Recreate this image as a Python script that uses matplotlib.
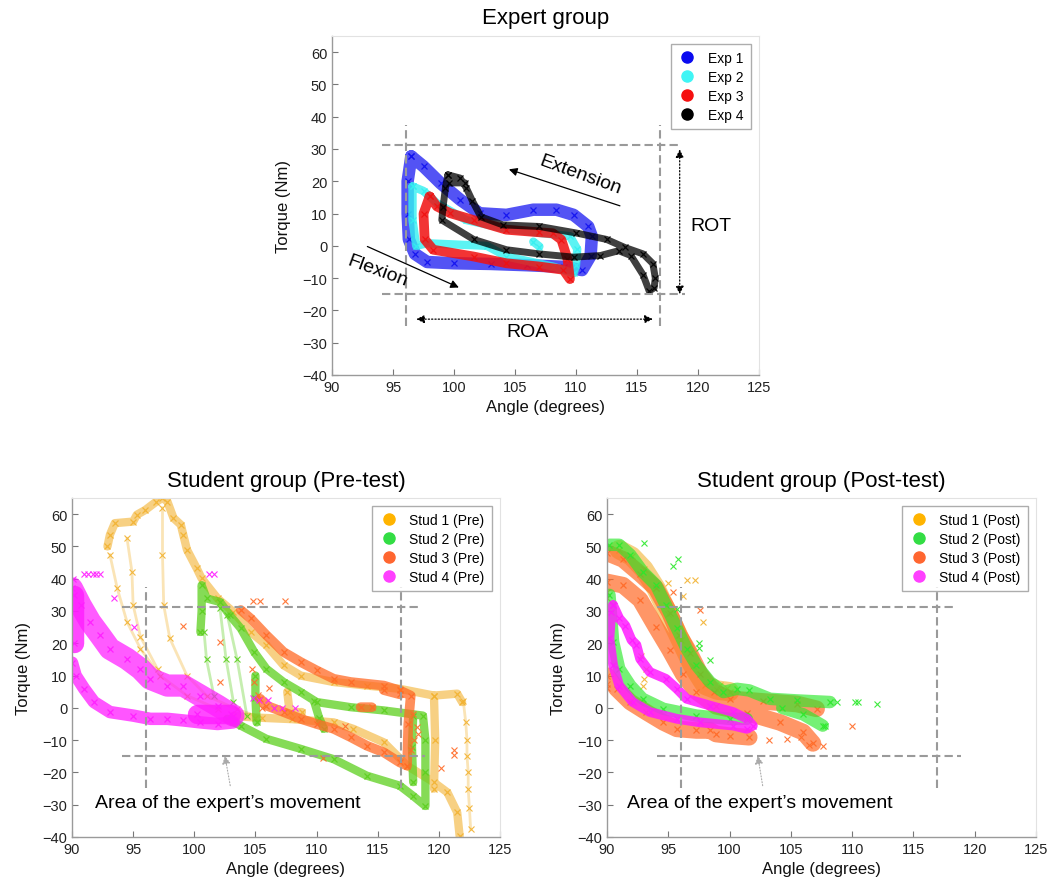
import numpy as np
import matplotlib
matplotlib.use("Agg")
import matplotlib.pyplot as plt
from matplotlib.lines import Line2D

plt.rcParams['font.family'] = ['Liberation Sans', 'DejaVu Sans']

nan = np.nan

# ---------------- Expert group data (angle deg, torque Nm) ----------------
exp1_x = [96.5, 97.5, 98.9, 100.5, 102.1, 104.3, 106.5, 108.4, 109.8, 111.0, 111.3, 111.2, 110.5,
          109.0, 106.0, 103.0, 100.0, 97.8, 96.8, 96.3, 96.2, 96.2, 96.5]
exp1_y = [27.7, 24.6, 19.4, 14.3, 10.1, 9.6, 11.2, 11.2, 9.6, 6.0, 2.9, -3.0, -7.5,
          -6.5, -6.0, -5.6, -5.4, -5.0, -2.5, 2.0, 10.0, 20.0, 27.7]
exp2_x = [96.6, 97.5, 98.6, 101.0, 104.0, 107.0, 109.5, 110.1, 110.0, 109.8, 108.1, 104.3,
          102.7, 97.8, 96.9, 96.6, 96.6, nan, 106.5, 107.0]
exp2_y = [18.4, 17.0, 13.2, 8.0, 5.5, 4.0, 3.0, -1.0, -6.0, -8.5, -6.4, -3.3,
          0.0, 0.8, 0.0, 8.0, 18.4, nan, 1.3, -0.2]
exp3_x = [98.0, 98.6, 99.7, 101.6, 104.3, 107.0, 108.1, 108.8, 109.3, 109.5, 108.96, 107.0,
          104.3, 101.6, 98.3, 97.6, 97.5, 98.0]
exp3_y = [15.3, 12.2, 10.1, 8.0, 5.0, 4.2, 3.9, 1.9, -4.0, -10.3, -7.4, -6.4,
          -5.4, -3.3, -1.2, 2.0, 10.0, 15.3]
exp4_x = [99.5, 100.5, 101.0, 101.5, 102.2, 104.0, 107.0, 110.0, 112.5, 114.0, 115.5, 116.3,
          116.5, 116.4, 116.0, 115.5, 114.5, 113.5, 112.0, 109.8, 107.0, 104.3, 101.6, 99.0,
          99.1, 99.3, 99.5, nan, 99.6, 100.9]
exp4_y = [22.0, 21.0, 18.0, 14.0, 9.0, 6.5, 6.0, 4.0, 2.0, -0.5, -2.5, -5.5,
          -10.0, -13.0, -14.0, -9.0, -3.0, -1.5, -3.0, -3.5, -2.5, -1.2, 2.0, 8.0,
          12.0, 18.0, 22.0, nan, 19.5, 19.5]

# ---------------- Student pre-test ----------------
s1_pre_x = [92.9, 93.1, 93.5, 95.0, 95.3, 96.0, 96.9, 97.4, 97.8, 98.3, 98.9, 99.1, 99.4,
            100.2, 100.6, 101.9, 103.2, 104.6, 105.9, 107.3, 108.7, 111.4, 114.1, 116.8,
            119.6, 121.5, 121.9, nan,
            119.6, 119.7, 119.6, nan,
            103.2, 105.0, 108.0, 111.4, 113.0, 115.5, 117.4, 119.6, 120.7, 121.5, 121.7, nan,
            107.6, 107.8, 108.8]
s1_pre_y = [50.0, 53.6, 57.2, 57.7, 59.8, 61.3, 63.9, 65.0, 63.9, 58.8, 56.7, 53.6, 49.0,
            43.2, 40.1, 33.9, 29.7, 23.5, 19.4, 13.2, 10.0, 8.0, 6.9, 5.9,
            3.8, 4.4, 1.8, nan,
            3.8, -10.0, -25.0, nan,
            -2.5, -3.0, -3.5, -4.5, -6.5, -10.7, -17.9, -23.1, -26.2, -32.4, -39.7, nan,
            5.0, -1.3, -1.3]
s1_pre_sx = [101.9, 99.4, 97.2, 95.6, 94.5, 93.7, 93.1, nan,
             94.5, 94.9, 95.0, 95.6, 97.0, nan,
             97.4, 97.4, 97.5, 98.0, 99.4, 101.0, 103.5, 105.5, nan,
             122.0, 122.2, 122.3, 122.3, 122.4, 122.4, 122.5, 122.6]
s1_pre_sy = [-0.3, 3.8, 10.0, 18.3, 26.6, 37.0, 47.4, nan,
             52.5, 42.2, 31.8, 22.0, 12.0, nan,
             62.0, 47.4, 31.8, 21.5, 10.0, 3.8, -0.5, -3.0, nan,
             2.0, -4.5, -10.0, -14.8, -20.0, -25.2, -31.0, -37.6]

s2_pre_x = [100.5, 100.6, 100.6, 101.0, 102.1, 102.9, 103.8, 104.9, 105.9, 107.3, 108.7, 110.0,
            112.8, 115.5, 118.7, 118.9, 118.9, 118.9, 117.9, 116.8, 114.1, 111.4, 108.7,
            105.9, 103.8, 102.7, nan,
            105.0, 105.0, 105.1, nan,
            109.8, 110.2, 110.6, nan,
            117.9, 117.8, 117.9]
s2_pre_y = [23.5, 30.0, 38.0, 33.9, 32.8, 28.7, 24.6, 17.3, 12.1, 8.0, 4.9, 1.8,
            0.2, -0.8, -2.4, -10.0, -20.0, -30.4, -27.3, -24.1, -21.0, -15.9, -12.7,
            -9.6, -5.5, -3.4, nan,
            10.0, 3.0, -4.5, nan,
            2.0, -3.0, -6.5, nan,
            -2.4, -12.0, -23.0]
s2_pre_sx = [101.6, 101.0, 100.8, nan, 103.2, 102.6, 102.1, nan, 104.3, 103.5, 102.7]
s2_pre_sy = [3.8, 15.0, 23.5, nan, 1.8, 15.0, 30.8, nan, -2.4, 15.0, 28.7]

s3_pre_x = [103.8, 104.6, 105.9, 107.3, 108.7, 110.0, 111.4, 112.8, 115.5, 116.8, 117.7, 117.5,
            117.4, 116.8, 115.5, 114.1, 112.8, 111.4, 110.0, 108.7, 107.3, 105.9, 105.4, nan,
            113.6, 114.5, nan, 115.5, 116.8]
s3_pre_y = [30.3, 27.7, 22.5, 17.3, 14.2, 11.6, 9.0, 8.0, 6.9, 5.4, 3.8, -5.0,
            -17.9, -16.9, -13.8, -11.7, -9.1, -6.5, -5.0, -3.4, -1.3, 0.7, 2.8, nan,
            0.2, 0.2, nan, 5.5, 4.2]
s3_pre_ox = [104.8, 105.4, 107.4, 99.1, 102.1, 102.1, 110.5, 112.3, 121.2, 121.2, 120.2, 117.9,
             118.2, 118.0, 117.7, 118.3, 104.9, 105.2, 105.5, 104.7, 106.1]
s3_pre_oy = [33.0, 33.0, 33.0, 25.5, 20.5, 8.0, -15.5, -5.5, -13.0, -14.5, -18.5, -2.0,
             -6.0, -10.0, -13.0, -8.0, 8.0, 4.0, 0.0, 12.0, 6.0]

s4_pre_x = [90.0, 90.7, 91.5, 92.3, 93.1, 94.5, 95.6, 96.4, 97.8, 99.1, 100.5, 101.9, 103.2]
s4_pre_y = [37.0, 31.8, 26.6, 22.5, 18.3, 15.2, 12.1, 9.0, 6.9, 6.9, 3.8, 0.7, -2.4]
s4_pre_lx = [90.0, 90.3, 91.0, 91.8, 93.1, 95.0, 96.4, 97.8, 99.1, 100.5, 101.9, 103.2]
s4_pre_ly = [14.0, 10.0, 5.9, 1.8, -1.3, -2.4, -3.4, -3.4, -3.9, -4.5, -5.0, -4.5]
s4_pre_bx = [90.2, 90.2, nan, 100.2, 103.0]
s4_pre_by = [35.0, 20.0, nan, -1.8, -1.8]
s4_pre_ox = [91.0, 91.3, 91.7, 92.0, 92.3, 90.1, 101.2, 101.6, 104.8, 106.5, 107.2, 105.3,
             106.0, 108.2, 93.4, 95.1]
s4_pre_oy = [41.6, 41.6, 41.6, 41.6, 41.6, 40.0, 41.6, 41.6, 3.2, 0.0, 0.0, 2.4,
             2.4, 0.0, 34.0, 25.0]

# ---------------- Student post-test ----------------
s1_post_x = [91.0, 92.0, 93.0, 94.0, 95.0, 96.0, 97.0, 98.0, 99.0, 100.0]
s1_post_y = [49.0, 47.0, 43.0, 37.0, 29.0, 21.0, 13.0, 7.0, 5.5, 5.0]
s1_post_ox = [96.5, 95.0, 96.2, 97.8, 97.2, 99.2, 99.8, 92.9, 93.0, 93.2, 92.8]
s1_post_oy = [39.7, 38.7, 34.5, 26.5, 39.5, 7.0, 6.0, 6.9, 9.0, 12.0, 16.0]

s3_post_x = [90.0, 91.3, 92.7, 94.0, 95.1, 95.9, 96.75, 97.6, 98.7, 100.0, 102.7, 105.5, 107.1, nan,
             90.0, 91.3, 92.7, 94.0, 95.1, 96.2, 97.3, 98.9, 101.4, 104.1, 106.0, 106.8, nan,
             90.0, 90.8, 91.9, 93.2, 94.6, 95.7, 97.3, 98.4, 98.9, 100.0, 101.6]
s3_post_y = [48.0, 46.0, 41.5, 37.0, 29.5, 22.5, 17.0, 10.5, 5.0, 2.8, 2.0, 1.2, -0.3, nan,
             39.0, 38.0, 33.5, 25.0, 18.0, 10.5, 5.0, 0.5, -1.5, -4.5, -7.5, -11.0, nan,
             10.0, 5.9, 1.8, -1.3, -4.5, -6.5, -7.0, -7.0, -8.1, -8.6, -9.1]
s3_post_ox = [90.0, 90.0, 103.2, 104.7, 107.6, 110.0, 97.6, 90.0, 90.0, 95.4, 105.8, 106.5]
s3_post_oy = [6.0, 7.5, -10.1, -9.8, -11.8, -5.6, 30.3, 34.0, 36.0, 36.0, -9.0, -11.5]

s2_post_x = [90.2, 91.0, 91.9, 92.9, 94.0, 94.8, 95.7, 96.5, 97.3, 98.4, 99.5, 100.6, 101.6,
             103.3, 105.5, 108.2, nan,
             104.3, 106.0, 107.6, nan,
             90.2, 90.5, 91.0, 91.9, 92.9, 94.6, 97.3, 100.0, 101.4]
s2_post_y = [50.5, 50.5, 47.4, 42.2, 38.0, 31.8, 24.6, 18.3, 13.2, 8.0, 4.9, 5.9, 5.4,
             2.8, 2.3, 1.8, nan,
             0.0, -2.0, -5.5, nan,
             35.0, 20.4, 12.1, 6.9, 2.8, -0.3, -2.4, -3.4, -3.4]
s2_post_ox = [93.0, 95.8, 95.4, 97.5, 97.5, 98.4, 110.2, 110.5, 112.0, 108.8, 107.8, 95.7]
s2_post_oy = [51.0, 46.0, 44.0, 20.0, 18.5, 14.7, 1.7, 1.7, 1.3, 1.7, -5.6, 30.7]

s4_post_x = [90.5, 91.0, 91.5, 92.0, 92.4, 92.7, 93.5, 94.8, 95.7, 96.5, 98.4, 100.3, 101.4,
             101.9, 101.4, 100.3, 97.6, 95.7, 93.5, 92.1, 91.0, 90.5, 90.2, 90.35, 90.5]
s4_post_y = [31.8, 27.7, 25.5, 21.0, 19.5, 15.2, 11.1, 9.0, 5.9, 2.8, 0.7, -1.3, -3.4,
             -5.5, -6.5, -5.5, -4.5, -3.4, -1.3, 1.8, 6.9, 13.2, 21.5, 29.7, 31.8]

# ---------------- Reference box of the expert movement ----------------
box_top, box_bottom = 31.2, -15.0
box_left, box_right = 96.05, 116.9

C_EXP = ['#1010f0', '#33f0f0', '#f01010', '#000000']
C_STUD = ['#f2b230', '#5ccf1e', '#ff6a26', '#ff1cff']
C_STUD_POST = ['#f2b230', '#2be82b', '#ff6a26', '#ff1cff']
C_LEG = ['#ffb400', '#33dd44', '#ff6630', '#ff40ff']
GRAY = '#9a9a9a'

W, H = 1049, 887
fig = plt.figure(figsize=(W / 100, H / 100), dpi=100)


def style_axes(ax, title):
    ax.set_xlim(90, 125)
    ax.set_ylim(-40, 65)
    ax.set_xticks(np.arange(90, 126, 5))
    ax.set_yticks(np.arange(-40, 61, 10))
    ax.tick_params(direction='in', length=4, width=0.8, colors='#777777',
                   labelcolor='#222222', labelsize=10.5, top=False, right=False)
    for s in ['left', 'bottom']:
        ax.spines[s].set_color('#9a9a9a')
        ax.spines[s].set_linewidth(1.0)
    for s in ['top', 'right']:
        ax.spines[s].set_color('#e2e2e2')
        ax.spines[s].set_linewidth(0.8)
    ax.set_xlabel('Angle (degrees)', fontsize=12, color='#111111', labelpad=4)
    ax.set_ylabel('Torque (Nm)', fontsize=12, color='#111111', labelpad=8)
    ax.set_title(title, fontsize=16, pad=9)


def band(ax, x, y, color, lw, alpha=0.6, ms=4.5, z=2):
    ax.plot(x, y, color=color, lw=lw, alpha=alpha, solid_capstyle='round',
            solid_joinstyle='round', zorder=z)
    ax.plot(x, y, ls='none', marker='x', ms=ms, mew=0.9, color=color, alpha=0.9, zorder=z)


def sparse(ax, x, y, color, z=2):
    ax.plot(x, y, color=color, lw=2.0, alpha=0.35, zorder=z)
    ax.plot(x, y, ls='none', marker='x', ms=4, mew=0.8, color=color, alpha=0.9, zorder=z)


def outliers(ax, x, y, color, z=2):
    ax.plot(x, y, ls='none', marker='x', ms=4, mew=0.8, color=color, alpha=0.9, zorder=z)


def expert_box(ax):
    kw = dict(color=GRAY, lw=1.5, dashes=(4, 2), zorder=5)
    ax.plot([94.1, 118.4], [box_top, box_top], **kw)
    ax.plot([94.1, 118.9], [box_bottom, box_bottom], **kw)
    ax.plot([box_left, box_left], [-24.7, 37.3], **kw)
    ax.plot([box_right, box_right], [-24.7, 37.3], **kw)


def legend(ax, labels, colors):
    handles = [Line2D([], [], ls='none', marker='o', ms=8, color=c) for c in colors]
    lg = ax.legend(handles, labels, loc='upper right', fontsize=10, frameon=True,
                   fancybox=False, edgecolor='#999999', borderaxespad=0.6,
                   handletextpad=0.8, labelspacing=0.35, borderpad=0.5, handlelength=1.4)
    lg.get_frame().set_linewidth(1.0)
    lg.set_zorder(10)


# ---------------- Expert axes ----------------
ax1 = fig.add_axes([332 / W, 1 - 376 / H, 427 / W, 339 / H])
style_axes(ax1, 'Expert group')
band(ax1, exp1_x, exp1_y, C_EXP[0], 9, alpha=0.72, ms=4)
band(ax1, exp2_x, exp2_y, C_EXP[1], 6, alpha=0.8, ms=4)
band(ax1, exp3_x, exp3_y, C_EXP[2], 7, alpha=0.85, ms=4)
band(ax1, exp4_x, exp4_y, C_EXP[3], 5, alpha=0.75, ms=4)
expert_box(ax1)
ax1.annotate('', xy=(118.5, -15.0), xytext=(118.5, 29.9),
             arrowprops=dict(arrowstyle='<|-|>', color='black', lw=0.9, ls=':',
                             mutation_scale=12, shrinkA=0, shrinkB=0), zorder=6)
ax1.annotate('', xy=(96.9, -22.7), xytext=(116.3, -22.7),
             arrowprops=dict(arrowstyle='<|-|>', color='black', lw=0.9, ls=':',
                             mutation_scale=12, shrinkA=0, shrinkB=0), zorder=6)
ax1.annotate('', xy=(104.5, 23.7), xytext=(113.6, 12.4),
             arrowprops=dict(arrowstyle='-|>', color='black', lw=0.9,
                             mutation_scale=12, shrinkA=0, shrinkB=0), zorder=6)
ax1.annotate('', xy=(100.4, -12.9), xytext=(92.9, -0.2),
             arrowprops=dict(arrowstyle='-|>', color='black', lw=0.9,
                             mutation_scale=12, shrinkA=0, shrinkB=0), zorder=6)
ax1.text(110.35, 22.0, 'Extension', fontsize=14, rotation=-20, ha='center', va='center', zorder=7)
ax1.text(93.7, -7.5, 'Flexion', fontsize=14, rotation=-20, ha='center', va='center', zorder=7)
ax1.text(121.1, 6.4, 'ROT', fontsize=14, ha='center', va='center', zorder=7)
ax1.text(106.0, -26.6, 'ROA', fontsize=14, ha='center', va='center', zorder=7)
legend(ax1, ['Exp 1', 'Exp 2', 'Exp 3', 'Exp 4'], ['#0a0af0', '#40f5f5', '#f51010', '#000000'])

# ---------------- Pre-test axes ----------------
ax2 = fig.add_axes([72 / W, 1 - 838 / H, 428 / W, 339 / H])
style_axes(ax2, 'Student group (Pre-test)')
sparse(ax2, s1_pre_sx, s1_pre_sy, C_STUD[0])
band(ax2, s1_pre_x, s1_pre_y, C_STUD[0], 6)
sparse(ax2, s2_pre_sx, s2_pre_sy, C_STUD[1])
band(ax2, s2_pre_x, s2_pre_y, C_STUD[1], 6, alpha=0.75)
band(ax2, s3_pre_x, s3_pre_y, C_STUD[2], 7, alpha=0.75)
outliers(ax2, s3_pre_ox, s3_pre_oy, C_STUD[2])
band(ax2, s4_pre_x, s4_pre_y, C_STUD[3], 16, alpha=0.72, ms=5)
band(ax2, s4_pre_lx, s4_pre_ly, C_STUD[3], 9, alpha=0.75, ms=5)
band(ax2, s4_pre_bx, s4_pre_by, C_STUD[3], 14, alpha=0.8, ms=5)
outliers(ax2, s4_pre_ox, s4_pre_oy, C_STUD[3])
expert_box(ax2)
ax2.annotate('', xy=(102.5, -14.8), xytext=(102.94, -24.1),
             arrowprops=dict(arrowstyle='-|>', color='#aaaaaa', lw=0.8, ls=':',
                             mutation_scale=12, shrinkA=0, shrinkB=0), zorder=6)
ax2.text(91.9, -29.3, 'Area of the expert\u2019s movement', fontsize=14, ha='left', va='center', zorder=7)
legend(ax2, ['Stud 1 (Pre)', 'Stud 2 (Pre)', 'Stud 3 (Pre)', 'Stud 4 (Pre)'], C_LEG)

# ---------------- Post-test axes ----------------
ax3 = fig.add_axes([607 / W, 1 - 838 / H, 429 / W, 339 / H])
style_axes(ax3, 'Student group (Post-test)')
band(ax3, s1_post_x, s1_post_y, C_STUD_POST[0], 14, alpha=0.6)
outliers(ax3, s1_post_ox, s1_post_oy, C_STUD_POST[0])
band(ax3, s3_post_x, s3_post_y, C_STUD_POST[2], 12, alpha=0.7)
outliers(ax3, s3_post_ox, s3_post_oy, C_STUD_POST[2])
band(ax3, s2_post_x, s2_post_y, C_STUD_POST[1], 9, alpha=0.65)
outliers(ax3, s2_post_ox, s2_post_oy, C_STUD_POST[1])
band(ax3, s4_post_x, s4_post_y, C_STUD_POST[3], 7, alpha=0.85)
expert_box(ax3)
ax3.annotate('', xy=(102.3, -14.8), xytext=(102.7, -24.1),
             arrowprops=dict(arrowstyle='-|>', color='#aaaaaa', lw=0.8, ls=':',
                             mutation_scale=12, shrinkA=0, shrinkB=0), zorder=6)
ax3.text(91.6, -29.3, 'Area of the expert\u2019s movement', fontsize=14, ha='left', va='center', zorder=7)
legend(ax3, ['Stud 1 (Post)', 'Stud 2 (Post)', 'Stud 3 (Post)', 'Stud 4 (Post)'], C_LEG)

fig.savefig('out.png', dpi=100)
